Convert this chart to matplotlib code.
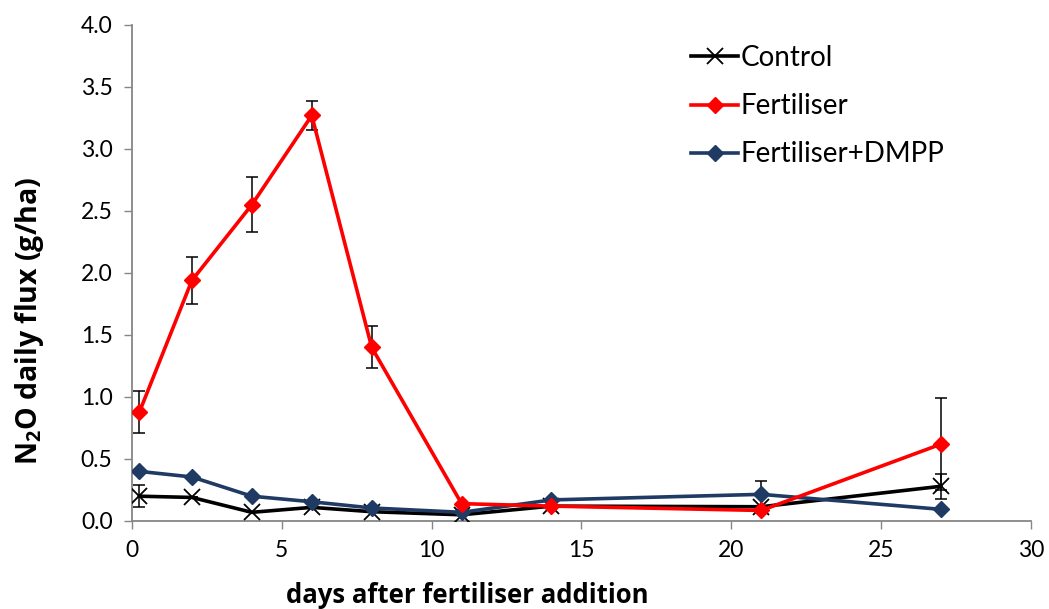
import numpy as np
import matplotlib
matplotlib.use('Agg')
import matplotlib.pyplot as plt

plt.rcParams['font.family'] = ['Lato', 'DejaVu Sans']
plt.rcParams['mathtext.fontset'] = 'custom'
plt.rcParams['mathtext.rm'] = 'Open Sans:bold'
plt.rcParams['mathtext.bf'] = 'Open Sans:bold'

days = [0.25, 2, 4, 6, 8, 11, 14, 21, 27]

control = [0.20, 0.19, 0.07, 0.11, 0.075, 0.05, 0.12, 0.115, 0.28]
control_err = [0.09, 0, 0, 0, 0, 0, 0, 0, 0.10]

fert = [0.88, 1.94, 2.55, 3.27, 1.40, 0.14, 0.12, 0.085, 0.62]
fert_err = [0.17, 0.19, 0.22, 0.12, 0.17, 0, 0, 0, 0.37]

dmpp = [0.40, 0.355, 0.20, 0.155, 0.105, 0.07, 0.17, 0.215, 0.094]
dmpp_err = [0, 0, 0, 0, 0, 0, 0, 0.11, 0]

navy = '#1F3A63'
grey = '#868686'

fig = plt.figure(figsize=(10.49, 6.09), dpi=100)
ax = fig.add_axes([0.1258, 0.1445, 0.8570, 0.8145])

# error bars first, then the lines over them
for y, e in [(control, control_err), (fert, fert_err), (dmpp, dmpp_err)]:
    ax.errorbar(days, y, yerr=e, fmt='none', ecolor='black', elinewidth=1.1,
                capsize=4, capthick=1.1, zorder=2)

ax.plot(days, control, color='black', lw=2.6, marker='x', ms=11, mew=1.3,
        label='Control', zorder=3)
ax.plot(days, dmpp, color=navy, lw=2.6, marker='D', ms=8,
        label='Fertiliser+DMPP', zorder=4)
ax.plot(days, fert, color='#FF0000', lw=2.6, marker='D', ms=8,
        label='Fertiliser', zorder=5)

ax.set_xlim(0, 30)
ax.set_ylim(0, 4.0)
ax.set_xticks(np.arange(0, 31, 5))
ax.set_yticks(np.arange(0, 4.01, 0.5))
ax.set_yticklabels([f'{v:.1f}' for v in np.arange(0, 4.01, 0.5)])
ax.tick_params(labelsize=16.5, direction='out', length=6, width=1, color=grey, pad=8)
for s in ['top', 'right']:
    ax.spines[s].set_visible(False)
for s in ['left', 'bottom']:
    ax.spines[s].set_color(grey)
    ax.spines[s].set_linewidth(1.3)

ax.set_xlabel('days after fertiliser addition', fontsize=18.5, fontweight='bold',
              family=['Open Sans', 'DejaVu Sans'])
ax.set_ylabel('N$_2$O daily flux (g/ha)', fontsize=20.5, fontweight='bold',
              family=['Open Sans', 'DejaVu Sans'])
# labels sit off-centre in the original
ax.xaxis.set_label_coords(0.373, -0.122)
ax.yaxis.set_label_coords(-0.096, 0.404)

h, l = ax.get_legend_handles_labels()
order = [0, 2, 1]
ax.legend([h[i] for i in order], [l[i] for i in order], loc='upper left',
          bbox_to_anchor=(0.594, 1.01), frameon=False, fontsize=20,
          handlelength=1.7, handletextpad=0.1, labelspacing=0.8)

fig.savefig('out.png', dpi=100)
